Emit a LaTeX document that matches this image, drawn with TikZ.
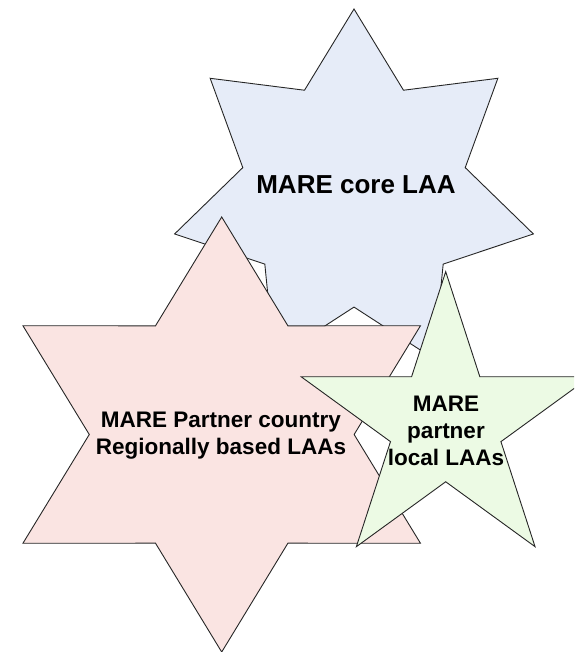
\documentclass[tikz,border=0pt]{standalone}
\usepackage{xcolor}
\usepackage{fontspec}
\setmainfont{Liberation Sans}
\usepackage{tikz}
\definecolor{starblue}{RGB}{230, 236, 248}
\definecolor{starpink}{RGB}{250, 228, 226}
\definecolor{stargreen}{RGB}{236, 250, 228}

\tikzset{
  starline/.style={draw=black!85, line width=0.9pt, line join=miter},
  startext/.style={anchor=north, inner sep=0pt, align=center,
    font=\bfseries\fontsize{22.5}{27}\selectfont}
}

% star: fill, centre x, centre y, points, x radius, y radius, inner ratio
\newcommand{\drawstar}[7]{%
  \pgfmathtruncatemacro{\lastcorner}{2*#4-1}
  \filldraw[starline, fill=#1] (#2,{#3-#6})
    \foreach \k in {1,...,\lastcorner} {
      -- ({#2+(mod(\k,2)==1 ? #7 : 1)*#5*cos(90+\k*180/#4)},
          {#3-(mod(\k,2)==1 ? #7 : 1)*#6*sin(90+\k*180/#4)})
    } -- cycle;
}

\begin{document}
\begin{tikzpicture}[x=1pt, y=-1pt]
\useasboundingbox (0,0) rectangle (574,652);
\clip (0,0) rectangle (574,652);
% Draw the three stars, back to front
\drawstar{starblue}{354}{193}{7}{184}{184}{0.62}
\drawstar{starpink}{221.7}{434.5}{6}{229.5}{217.5}{0.577}
\drawstar{stargreen}{445.7}{423.7}{5}{152}{152}{0.382}
% Labels
\node[startext, font=\bfseries\fontsize{26}{31}\selectfont] (core) at (356,175) {MARE core LAA};
\node[startext] (regional) at (221,412) {MARE Partner country\\Regionally based LAAs};
\node[startext] (local) at (446,395.5) {MARE\\partner\\local LAAs};
\end{tikzpicture}
\end{document}
